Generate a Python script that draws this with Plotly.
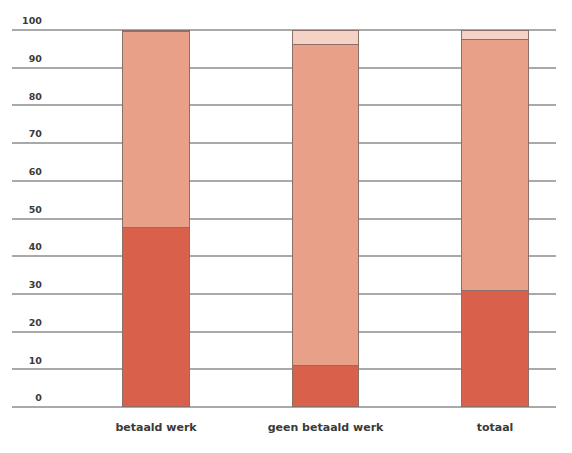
import plotly.graph_objects as go

categories = ["betaald werk", "geen betaald werk", "totaal"]
segment_bottom = [47.5, 11.0, 31.0]
segment_middle = [52.2, 85.2, 66.6]
segment_top = [0.3, 3.8, 2.4]
y_ticks = [0, 10, 20, 30, 40, 50, 60, 70, 80, 90, 100]

colors = ["#d9604a", "#e9a088", "#f4d2c6"]
border = "#8c6f66"

fig = go.Figure()
for vals, col in zip([segment_bottom, segment_middle, segment_top], colors):
    fig.add_trace(go.Bar(
        x=categories, y=vals, marker=dict(color=col, line=dict(color=border, width=1)),
        width=0.395, showlegend=False, hoverinfo="skip"))

# invisible trace to carry the label axis
fig.add_trace(go.Scatter(x=categories, y=[0, 0, 0], yaxis="y2", mode="markers",
                         marker=dict(opacity=0), showlegend=False, hoverinfo="skip"))

xfnt = dict(family="DejaVu Sans", size=11, color="#3a3a3a", weight="bold")
yfnt = dict(family="DejaVu Sans", size=9.5, color="#3a3a3a", weight="bold")

fig.update_layout(
    width=572, height=453,
    margin=dict(l=4, r=24, t=21, b=53),
    paper_bgcolor="white", plot_bgcolor="white",
    barmode="stack",
    xaxis=dict(range=[-0.85, 2.36], showgrid=False, zeroline=False, showline=False,
               ticks="outside", ticklen=9, tickcolor="rgba(0,0,0,0)", tickfont=xfnt,
               automargin=False),
    yaxis=dict(range=[-0.3, 100.3], tickvals=y_ticks, showticklabels=False, showgrid=True,
               gridcolor="#a9a9a9", gridwidth=1.5, zeroline=False, showline=False,
               automargin=False),
    yaxis2=dict(range=[-0.3, 100.3], tickvals=y_ticks, overlaying="y", anchor="free",
                position=0.055, side="left", showgrid=False, zeroline=False,
                showline=False, tickfont=yfnt, ticklabelshift=-9, automargin=False),
)

fig.write_html("out.html")
